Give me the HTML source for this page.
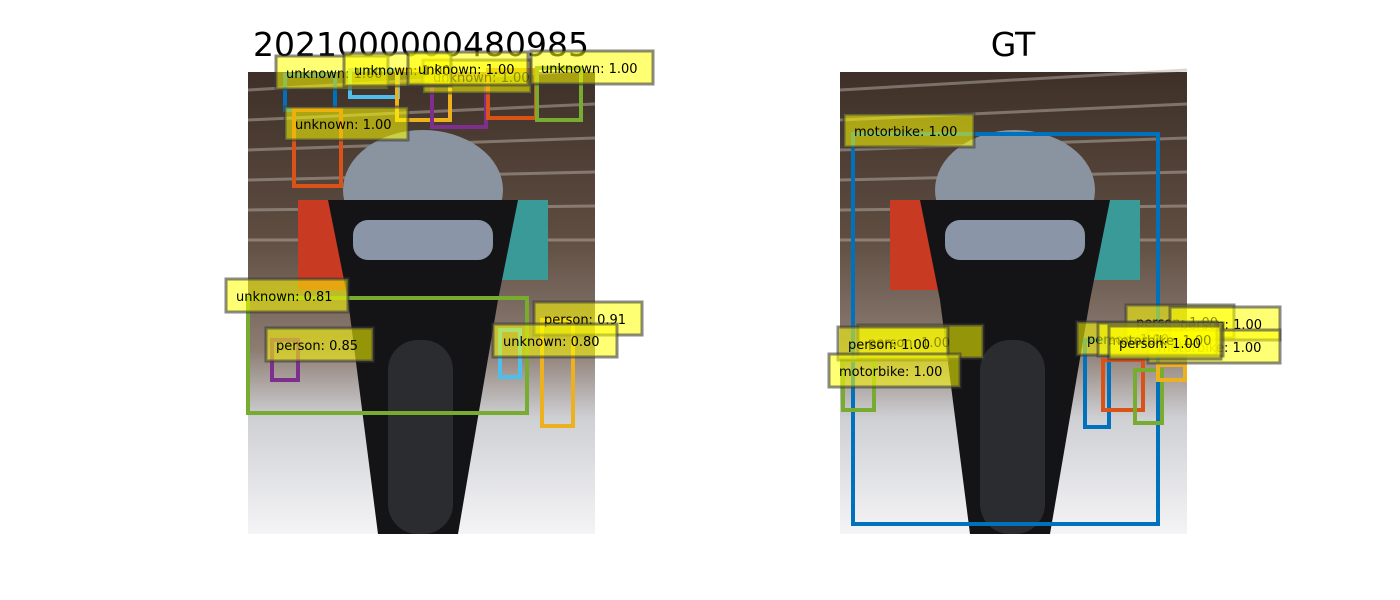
<!DOCTYPE html>
<html><head><meta charset="utf-8"><style>
body{margin:0;background:#fff;width:1400px;height:600px;overflow:hidden}
svg{display:block}
</style></head><body>
<svg id="s" width="1400" height="600" font-family="DejaVu Sans, Liberation Sans, sans-serif">
<defs>
<linearGradient id="bg" x1="0" y1="0" x2="0" y2="1">
<stop offset="0" stop-color="#3e3028"/><stop offset="0.35" stop-color="#5e4c40"/><stop offset="0.6" stop-color="#8c7c72"/><stop offset="0.75" stop-color="#cfd0d4"/><stop offset="1" stop-color="#f4f4f6"/>
</linearGradient>
</defs>
<text x="421" y="56" font-size="33" text-anchor="middle" fill="#000">2021000000480985</text>
<text x="1013" y="56" font-size="33" text-anchor="middle" fill="#000">GT</text>
<g id="L"></g><g id="R"></g>
</svg>
<script>
const panelX=[248,840];
const leftBoxes=[[285,75,335,110,'#0072bd'],[294,110,341,186,'#d95319'],[350,70,398,97,'#4dbeee'],[397,70,450,120,'#edb120'],[432,75,486,127,'#7e2f8e'],[488,70,536,118,'#d95319'],[537,68,581,120,'#77ac30'],[248,298,527,413,'#77ac30'],[272,340,298,380,'#7e2f8e'],[500,330,520,377,'#4dbeee'],[542,320,573,426,'#edb120']];
const leftLabels=[[276,56,112,'unknown: 1.00'],[423,60,108,'unknown: 1.00'],[344,53,107,'unknown: 1.00'],[408,52,120,'unknown: 1.00'],[531,51,122,'unknown: 1.00'],[285,107,123,'unknown: 1.00'],[226,279,122,'unknown: 0.81'],[266,328,107,'person: 0.85'],[534,302,108,'person: 0.91'],[493,324,124,'unknown: 0.80']];
const rightBoxes=[[853,134,1158,524,'#0072bd'],[843,360,874,410,'#77ac30'],[1085,340,1109,427,'#0072bd'],[1103,360,1143,410,'#d95319'],[1135,370,1162,423,'#77ac30'],[1158,365,1185,380,'#edb120']];
const rightLabels=[[844,114,130,'motorbike: 1.00'],[858,325,125,'person: 1.00'],[838,327,110,'person: 1.00'],[829,354,131,'motorbike: 1.00'],[1126,305,108,'person: 1.00'],[1170,307,110,'person: 1.00'],[1148,330,132,'motorbike: 1.00'],[1077,322,140,'person: 1.00'],[1098,323,125,'motorbike: 1.00'],[1109,326,112,'person: 1.00']];
const NS='http://www.w3.org/2000/svg';
function el(t,a,p){const e=document.createElementNS(NS,t);for(const k in a)e.setAttribute(k,a[k]);p.appendChild(e);return e;}
function photo(g,x0){
  el('rect',{x:x0,y:72,width:347,height:462,fill:'url(#bg)'},g);
  for(let i=0;i<6;i++)el('line',{x1:x0,y1:90+i*30,x2:x0+347,y2:70+i*34,stroke:'#b8b0a8','stroke-width':3,opacity:0.5},g);
  el('rect',{x:x0+50,y:200,width:50,height:90,fill:'#c83a22'},g);
  el('rect',{x:x0+250,y:200,width:50,height:80,fill:'#3a9a98'},g);
  el('ellipse',{cx:x0+175,cy:190,rx:80,ry:60,fill:'#8a94a0'},g);
  el('path',{d:`M${x0+80} 200 L${x0+270} 200 L${x0+250} 300 L${x0+210} 534 L${x0+130} 534 L${x0+100} 300Z`,fill:'#141416'},g);
  el('rect',{x:x0+140,y:340,width:65,height:194,rx:30,fill:'#2a2c30'},g);
  el('rect',{x:x0+105,y:220,width:140,height:40,rx:15,fill:'#8a96a8'},g);
}
function draw(g,boxes,labels,x0,side){
  photo(g,x0);
  boxes.forEach((b,i)=>{const r=el('rect',{x:b[0],y:b[1],width:b[2]-b[0],height:b[3]-b[1],fill:'none',stroke:b[4],'stroke-width':4},g);
    
    });
  labels.forEach((l,i)=>{const gg=el('g',{},g);
    
    
    el('rect',{x:l[0],y:l[1],width:l[2],height:33,fill:'rgba(255,255,0,0.55)',stroke:'rgba(60,60,60,0.6)','stroke-width':3},gg);
    el('text',{x:l[0]+10,y:l[1]+22,'font-size':13,fill:'#000'},gg).textContent=l[3];});
}
draw(document.getElementById('L'),leftBoxes,leftLabels,panelX[0],'left');
draw(document.getElementById('R'),rightBoxes,rightLabels,panelX[1],'right');
</script>
</body></html>
